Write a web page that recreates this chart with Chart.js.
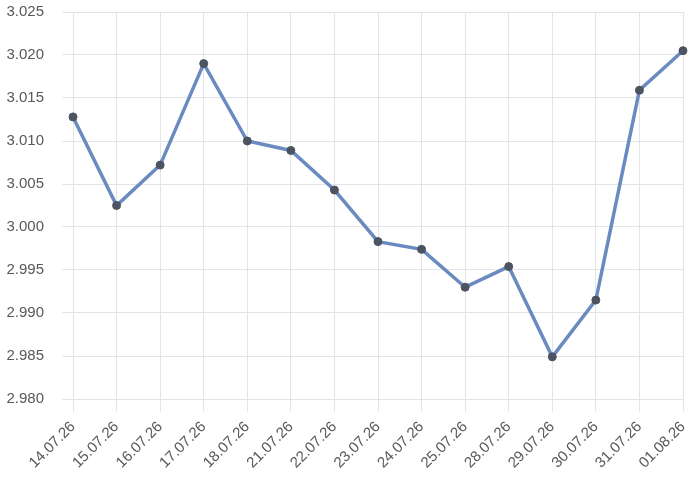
<!DOCTYPE html>
<html>
<head>
<meta charset="utf-8">
<script src="https://cdn.jsdelivr.net/npm/chart.js@4/dist/chart.umd.min.js"></script>
<style>
    html, body { margin: 0; padding: 0; background: #ffffff; }
    #wrap { width: 692px; height: 482px; }
</style>
</head>
<body>
<div id="wrap"><canvas id="rateChart" width="692" height="482"></canvas></div>
<script>
// Daten der Kurve
const dates = ['14.07.26', '15.07.26', '16.07.26', '17.07.26', '18.07.26', '21.07.26', '22.07.26',
    '23.07.26', '24.07.26', '25.07.26', '28.07.26', '29.07.26', '30.07.26', '31.07.26', '01.08.26'];
const rates = [3.0128, 3.0025, 3.0072, 3.0190, 3.0100, 3.0089, 3.0043,
    2.9983, 2.9974, 2.9930, 2.9954, 2.9849, 2.9915, 3.0159, 3.0205];
const yMin = 2.980;
const yMax = 3.025;
const yStep = 0.005;

const gridColor = '#e4e4e8';
const labelColor = '#595959';
const labelFont = { family: 'Liberation Sans, Arial, sans-serif', size: 15 };

// feste Achsenmaße, damit die Zeichenfläche wie im Vorbild liegt
function fixAxis(width, height) {
    return function(scale) {
        if (width) scale.width = width;
        if (height) scale.height = height;
        scale.paddingLeft = 0;
        scale.paddingRight = 0;
        scale.paddingTop = 0;
        scale.paddingBottom = 0;
    };
}

document.addEventListener('DOMContentLoaded', function() {
    const ctx = document.getElementById('rateChart').getContext('2d');

    new Chart(ctx, {
        type: 'line',
        data: {
            labels: dates,
            datasets: [{
                data: rates,
                borderColor: '#6a8bc0',
                borderWidth: 3.5,
                tension: 0,
                pointRadius: 4,
                pointBackgroundColor: '#4c5361',
                pointBorderColor: '#4c5361',
                pointBorderWidth: 1
            }]
        },
        options: {
            responsive: false,
            animation: false,
            layout: {
                padding: { top: 12, right: 9, left: 0, bottom: 0 }
            },
            plugins: {
                legend: { display: false },
                tooltip: { enabled: false }
            },
            scales: {
                x: {
                    offset: false,
                    border: { display: false },
                    grid: { color: gridColor, tickLength: 13, tickColor: gridColor },
                    ticks: {
                        color: labelColor,
                        font: labelFont,
                        autoSkip: false,
                        maxRotation: 45,
                        minRotation: 45,
                        padding: 6
                    },
                    afterFit: fixAxis(null, 83)
                },
                y: {
                    min: yMin,
                    max: yMax,
                    border: { display: false },
                    grid: { color: gridColor, tickLength: 11, tickColor: gridColor },
                    ticks: {
                        stepSize: yStep,
                        color: labelColor,
                        font: labelFont,
                        padding: 18,
                        callback: function(value) { return value.toFixed(3); }
                    },
                    afterFit: fixAxis(73, null)
                }
            }
        }
    });
});
</script>
</body>
</html>
